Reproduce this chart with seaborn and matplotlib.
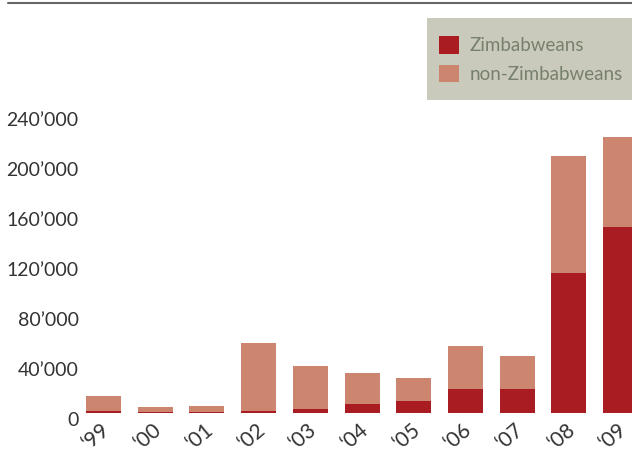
import matplotlib
matplotlib.use("Agg")
import matplotlib.pyplot as plt
import matplotlib.transforms as mtransforms
import seaborn as sns
import pandas as pd
from matplotlib.patches import Patch, Rectangle
from matplotlib.lines import Line2D

years = ["‘99", "‘00", "‘01", "‘02", "‘03", "‘04", "‘05", "‘06", "‘07", "‘08", "‘09"]
zimbabweans = [1000, 800, 800, 1000, 2500, 6500, 9000, 19000, 18500, 112000, 148500]
non_zimbabweans = [12000, 3300, 4200, 54500, 34500, 25500, 19000, 34000, 26500, 93000, 72000]
yticks = [0, 40000, 80000, 120000, 160000, 200000, 240000]
ytick_labels = ["0", "40’000", "80’000", "120’000", "160’000", "200’000", "240’000"]

dark = "#a81c22"
light = "#cc8670"

df = pd.DataFrame({
    "year": years,
    "zimb": zimbabweans,
    "total": [z + n for z, n in zip(zimbabweans, non_zimbabweans)],
})

sns.set_theme(style="white")
plt.rcParams["font.family"] = ["Lato", "DejaVu Sans"]

W, H = 632, 453
fig = plt.figure(figsize=(W / 100, H / 100), dpi=100)
left, right, top, bottom = 80, 632, 100, 412.5
ax = fig.add_axes([left / W, 1 - bottom / H, (right - left) / W, (bottom - top) / H])

sns.barplot(data=df, x="year", y="total", color=light, saturation=1, width=0.677,
            linewidth=0, ax=ax)
sns.barplot(data=df, x="year", y="zimb", color=dark, saturation=1, width=0.677,
            linewidth=0, ax=ax)

ax.set_xlim(-0.4545, 10.22)
ax.set_ylim(0, (bottom - top) / 1.25 * 1000)
ax.set_yticks(yticks)
ax.set_yticklabels(ytick_labels, fontsize=14, color="#333333")
ax.tick_params(axis="y", length=0, pad=1)
ax.tick_params(axis="x", length=0, pad=5)

ydown = mtransforms.ScaledTranslation(0, -6 / 100, fig.dpi_scale_trans)
for lab in ax.get_yticklabels():
    lab.set_transform(lab.get_transform() + ydown)

xshift = mtransforms.ScaledTranslation(-7 / 100, 0, fig.dpi_scale_trans)
for lab in ax.get_xticklabels():
    lab.set_rotation(40)
    lab.set_ha("center")
    lab.set_fontsize(15)
    lab.set_color("#333333")
    lab.set_transform(lab.get_transform() + xshift)
ax.set_xlabel("")
ax.set_ylabel("")
for s in ax.spines.values():
    s.set_visible(False)
ax.set_facecolor("none")

# top rule
fig.add_artist(Line2D([8 / W, 1], [1 - 2.5 / H, 1 - 2.5 / H], transform=fig.transFigure,
                      color="#666666", lw=1.5))

# legend box
fig.add_artist(Rectangle((427 / W, 1 - 100 / H), (W - 427) / W, 82 / H,
                         transform=fig.transFigure, facecolor="#c9c9bc",
                         edgecolor="none", zorder=0))

handles = [Patch(facecolor=dark, edgecolor="none", label="Zimbabweans"),
           Patch(facecolor=light, edgecolor="none", label="non-Zimbabweans")]
leg = fig.legend(handles=handles, loc="upper left",
                 bbox_to_anchor=(439 / W, 1 - 36 / H), bbox_transform=fig.transFigure,
                 frameon=False, fontsize=13.5, labelcolor="#77806c",
                 handlelength=1.07, handleheight=1.07, handletextpad=0.55,
                 borderpad=0, labelspacing=0.55, borderaxespad=0)

fig.savefig("out.png", dpi=100)
